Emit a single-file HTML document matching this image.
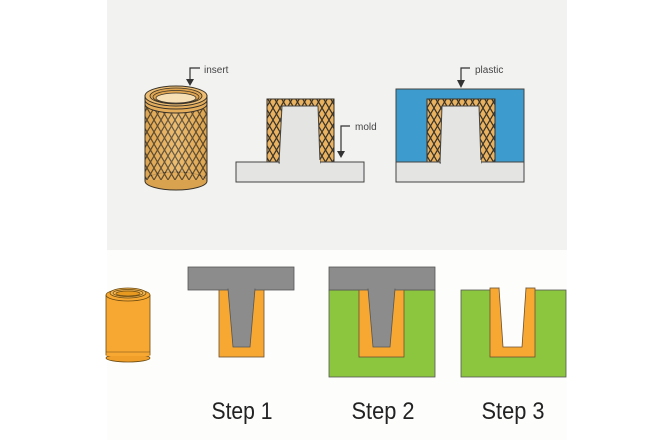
<!DOCTYPE html>
<html><head><style>
html,body{margin:0;padding:0;background:#fff;width:660px;height:440px;overflow:hidden}
svg{display:block}
</style></head><body>
<svg width="660" height="440" viewBox="0 0 660 440" xmlns="http://www.w3.org/2000/svg">
<defs>
<pattern id="kn" width="7" height="12" patternUnits="userSpaceOnUse">
<rect width="7" height="12" fill="#e8b260"/>
<path d="M0 0 L7 12 M7 0 L0 12" stroke="#3a3329" stroke-width="1.2" fill="none"/>
</pattern>
<linearGradient id="cyl" x1="0" x2="1">
<stop offset="0" stop-color="#b97d22"/><stop offset="0.5" stop-color="#f8d9a0"/><stop offset="1" stop-color="#b97d22"/>
</linearGradient>
</defs>
<rect x="107" y="0" width="460" height="250" fill="#f2f3f1"/>
<rect x="107" y="250" width="460" height="190" fill="#fdfdfc"/>

<!-- insert cylinder -->
<rect x="145" y="95" width="62" height="86" fill="url(#cyl)"/>
<ellipse cx="176" cy="181" rx="31" ry="9" fill="#d9a24e" stroke="#3a3329" stroke-width="1"/>
<rect x="145" y="100" width="62" height="80" fill="url(#kn)" opacity="0.75"/>
<line x1="145" y1="95" x2="145" y2="181" stroke="#3a3329"/>
<line x1="207" y1="95" x2="207" y2="181" stroke="#3a3329"/>
<ellipse cx="176" cy="104" rx="31" ry="9" fill="#e3ad5c" stroke="#3a3329"/>
<ellipse cx="176" cy="100" rx="31" ry="9" fill="#e3ad5c" stroke="#3a3329"/>
<ellipse cx="176" cy="96" rx="31" ry="10" fill="#ecbd72" stroke="#3a3329"/>
<ellipse cx="176" cy="96" rx="26" ry="8" fill="#e0a550" stroke="#3a3329" stroke-width="0.8"/>
<ellipse cx="176" cy="97" rx="23" ry="6.5" fill="none" stroke="#3a3329" stroke-width="0.8"/>
<ellipse cx="176" cy="98" rx="20" ry="5" fill="#f6dfb4" stroke="#3a3329" stroke-width="0.8"/>
<polyline points="200,68 190,68 190,80" fill="none" stroke="#333" stroke-width="1.2"/>
<polygon points="186,79 194,79 190,86" fill="#333"/>
<text x="204" y="73" font-family="Liberation Sans,sans-serif" font-size="10" fill="#444">insert</text>

<!-- mold -->
<rect x="267" y="99" width="67" height="64" fill="url(#kn)" stroke="#3a3329"/>
<rect x="236" y="162" width="128" height="20" fill="#e4e5e3" stroke="#444"/>
<polygon points="282,106 318,106 320,163 279,163" fill="#e4e5e3" stroke="#444"/>
<rect x="280" y="160" width="40" height="4" fill="#e4e5e3"/>
<polyline points="350,126 341,126 341,152" fill="none" stroke="#333" stroke-width="1.2"/>
<polygon points="337,151 345,151 341,158" fill="#333"/>
<text x="355" y="130" font-family="Liberation Sans,sans-serif" font-size="10" fill="#444">mold</text>

<!-- plastic -->
<rect x="396" y="89" width="128" height="74" fill="#3d9bcd" stroke="#444"/>
<rect x="427" y="99" width="68" height="64" fill="url(#kn)" stroke="#3a3329"/>
<rect x="396" y="162" width="128" height="20" fill="#e4e5e3" stroke="#444"/>
<polygon points="442,106 479,106 481,163 440,163" fill="#e4e5e3" stroke="#444"/>
<rect x="441" y="160" width="40" height="4" fill="#e4e5e3"/>
<polyline points="470,68 461,68 461,81" fill="none" stroke="#333" stroke-width="1.2"/>
<polygon points="457,80 465,80 461,88" fill="#333"/>
<text x="475" y="73" font-family="Liberation Sans,sans-serif" font-size="10" fill="#444">plastic</text>

<!-- bottom small cylinder -->
<rect x="106" y="295" width="44" height="60" fill="#f7a833" stroke="#6b4a10" stroke-width="0.8"/>
<ellipse cx="128" cy="358" rx="22" ry="4" fill="#f0a02a" stroke="#6b4a10" stroke-width="0.8"/>
<rect x="106.4" y="352" width="43.2" height="4" fill="#f7a833"/>
<line x1="106" y1="352" x2="150" y2="352" stroke="#6b4a10" stroke-width="0.6"/>
<ellipse cx="128" cy="295" rx="22" ry="6" fill="#f7a833" stroke="#6b4a10" stroke-width="0.8"/>
<ellipse cx="128" cy="293" rx="18" ry="5" fill="#f3b654" stroke="#6b4a10" stroke-width="0.8"/>
<ellipse cx="128" cy="293" rx="15" ry="3.5" fill="none" stroke="#6b4a10" stroke-width="0.7"/>
<ellipse cx="128" cy="293.5" rx="12" ry="2.5" fill="#e89a20" stroke="#6b4a10" stroke-width="0.7"/>

<!-- step 1 -->
<rect x="219" y="289" width="45" height="68" fill="#f7a833" stroke="#6b5030" stroke-width="0.8"/>
<rect x="188" y="267" width="106" height="23" fill="#8c8c8c" stroke="#555" stroke-width="0.8"/>
<polygon points="228,289 255,289 250,347 233,347" fill="#8c8c8c" stroke="#555" stroke-width="0.8"/>
<rect x="228.5" y="288" width="26" height="3" fill="#8c8c8c"/>

<!-- step 2 -->
<rect x="329" y="290" width="106" height="87" fill="#8cc63f" stroke="#555" stroke-width="0.8"/>
<rect x="359" y="289" width="45" height="68" fill="#f7a833" stroke="#6b5030" stroke-width="0.8"/>
<rect x="329" y="267" width="106" height="23" fill="#8c8c8c" stroke="#555" stroke-width="0.8"/>
<polygon points="368,289 395,289 390,347 373,347" fill="#8c8c8c" stroke="#555" stroke-width="0.8"/>
<rect x="368.5" y="288" width="26" height="3" fill="#8c8c8c"/>

<!-- step 3 -->
<rect x="461" y="290" width="105" height="87" fill="#8cc63f" stroke="#555" stroke-width="0.8"/>
<rect x="490" y="288" width="45" height="69" fill="#f7a833" stroke="#6b5030" stroke-width="0.8"/>
<polygon points="499,288 526,288 522,347 503,347" fill="#fdfdfc" stroke="#6b5030" stroke-width="0.8"/>
<rect x="499.5" y="287" width="26" height="1.5" fill="#fdfdfc"/>

<g font-family="Liberation Sans,sans-serif" font-size="24" fill="#222" text-anchor="middle">
<text x="242" y="419" textLength="61" lengthAdjust="spacingAndGlyphs">Step 1</text>
<text x="383" y="419" textLength="63" lengthAdjust="spacingAndGlyphs">Step 2</text>
<text x="513" y="419" textLength="63" lengthAdjust="spacingAndGlyphs">Step 3</text>
</g>
</svg>
</body></html>
